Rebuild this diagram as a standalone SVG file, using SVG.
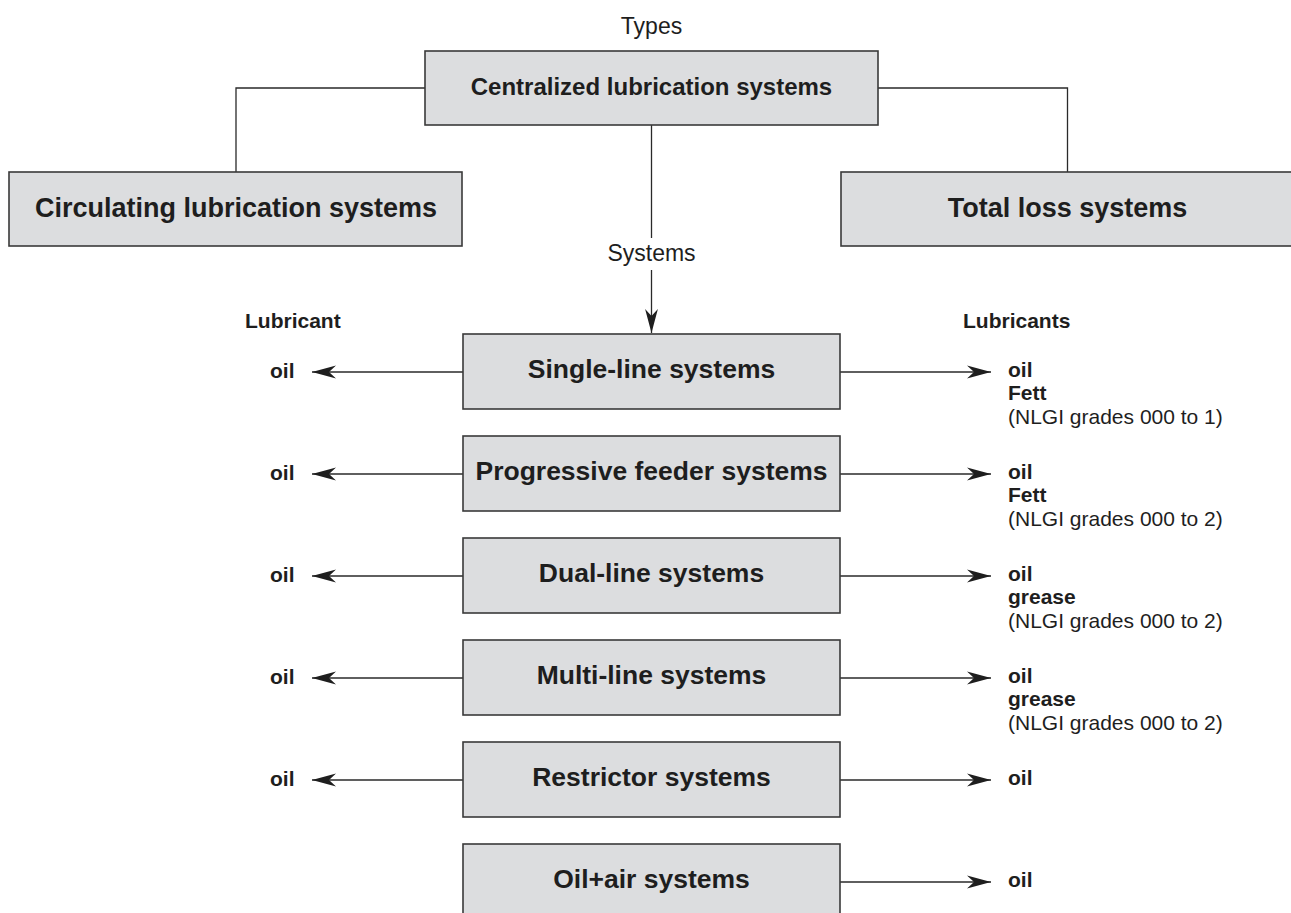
<svg xmlns="http://www.w3.org/2000/svg" width="1291" height="913" viewBox="0 0 1291 913">
<style>
.box{fill:#dcdddf;stroke:#3a3a3a;stroke-width:1.6}
.lbl{font-family:"Liberation Sans",Arial,Helvetica,sans-serif;font-weight:bold;fill:#1e1e1e;text-anchor:middle}
.big{font-size:27px}
.sys{font-size:26.5px}
.top{font-size:24px}
.plain{font-family:"Liberation Sans",Arial,Helvetica,sans-serif;font-size:23px;fill:#1e1e1e;text-anchor:middle}
.side{font-family:"Liberation Sans",Arial,Helvetica,sans-serif;font-size:21px;font-weight:bold;fill:#1e1e1e}
.note{font-family:"Liberation Sans",Arial,Helvetica,sans-serif;font-size:21px;fill:#1e1e1e}
.con{fill:none;stroke:#2a2a2a;stroke-width:1.3}
.arr{fill:none;stroke:#2a2a2a;stroke-width:1.3;marker-end:url(#ah)}
</style>
<defs>
<marker id="ah" markerUnits="userSpaceOnUse" markerWidth="26" markerHeight="14" viewBox="-25 -7 26 14" refX="0" refY="0" orient="auto">
<path d="M0,0 L-24,-6.4 L-17,0 L-24,6.4 Z" fill="#1e1e1e"/>
</marker>
</defs>
<rect width="1291" height="913" fill="#ffffff"/>

<text class="plain" x="651.5" y="34">Types</text>
<text class="plain" x="651.5" y="261">Systems</text>
<text class="side" x="245" y="327.5">Lubricant</text>
<text class="side" x="963" y="327.5">Lubricants</text>

<g id="connectors">
<polyline class="con" points="425,88 236,88 236,172"/>
<polyline class="con" points="878,88 1067.5,88 1067.5,172"/>
<line class="con" x1="651.5" y1="125" x2="651.5" y2="238"/>
<line class="arr" x1="651.5" y1="270" x2="651.5" y2="333"/>
<line class="arr" x1="463" y1="372" x2="312" y2="372"/>
<line class="arr" x1="840" y1="372" x2="991" y2="372"/>
<line class="arr" x1="463" y1="474" x2="312" y2="474"/>
<line class="arr" x1="840" y1="474" x2="991" y2="474"/>
<line class="arr" x1="463" y1="576" x2="312" y2="576"/>
<line class="arr" x1="840" y1="576" x2="991" y2="576"/>
<line class="arr" x1="463" y1="678" x2="312" y2="678"/>
<line class="arr" x1="840" y1="678" x2="991" y2="678"/>
<line class="arr" x1="463" y1="780" x2="312" y2="780"/>
<line class="arr" x1="840" y1="780" x2="991" y2="780"/>
<line class="arr" x1="840" y1="882" x2="991" y2="882"/>
</g>

<g id="centralized">
<rect class="box" x="425" y="51" width="453" height="74"/>
<text class="lbl top" x="651.5" y="94.5">Centralized lubrication systems</text>
</g>
<g id="circulating">
<rect class="box" x="9" y="172" width="453" height="74"/>
<text class="lbl big" x="236" y="216.5">Circulating lubrication systems</text>
</g>
<g id="totalloss">
<rect class="box" x="841" y="172" width="453" height="74"/>
<text class="lbl big" x="1067.5" y="216.5">Total loss systems</text>
</g>

<g id="singleline">
<rect class="box" x="463" y="334" width="377" height="75"/>
<text class="lbl sys" x="651.5" y="378">Single-line systems</text>
<text class="side" x="270" y="377.5">oil</text>
<text class="side" x="1008" y="376.5">oil</text>
<text class="side" x="1008" y="400">Fett</text>
<text class="note" x="1008" y="423.5">(NLGI grades 000 to 1)</text>
</g>
<g id="progressive">
<rect class="box" x="463" y="436" width="377" height="75"/>
<text class="lbl sys" x="651.5" y="480">Progressive feeder systems</text>
<text class="side" x="270" y="479.5">oil</text>
<text class="side" x="1008" y="478.5">oil</text>
<text class="side" x="1008" y="502">Fett</text>
<text class="note" x="1008" y="525.5">(NLGI grades 000 to 2)</text>
</g>
<g id="dualline">
<rect class="box" x="463" y="538" width="377" height="75"/>
<text class="lbl sys" x="651.5" y="582">Dual-line systems</text>
<text class="side" x="270" y="581.5">oil</text>
<text class="side" x="1008" y="580.5">oil</text>
<text class="side" x="1008" y="604">grease</text>
<text class="note" x="1008" y="627.5">(NLGI grades 000 to 2)</text>
</g>
<g id="multiline">
<rect class="box" x="463" y="640" width="377" height="75"/>
<text class="lbl sys" x="651.5" y="684">Multi-line systems</text>
<text class="side" x="270" y="683.5">oil</text>
<text class="side" x="1008" y="682.5">oil</text>
<text class="side" x="1008" y="706">grease</text>
<text class="note" x="1008" y="729.5">(NLGI grades 000 to 2)</text>
</g>
<g id="restrictor">
<rect class="box" x="463" y="742" width="377" height="75"/>
<text class="lbl sys" x="651.5" y="786">Restrictor systems</text>
<text class="side" x="270" y="785.5">oil</text>
<text class="side" x="1008" y="784.5">oil</text>
</g>
<g id="oilair">
<rect class="box" x="463" y="844" width="377" height="76"/>
<text class="lbl sys" x="651.5" y="888">Oil+air systems</text>
<text class="side" x="1008" y="886.5">oil</text>
</g>
</svg>
